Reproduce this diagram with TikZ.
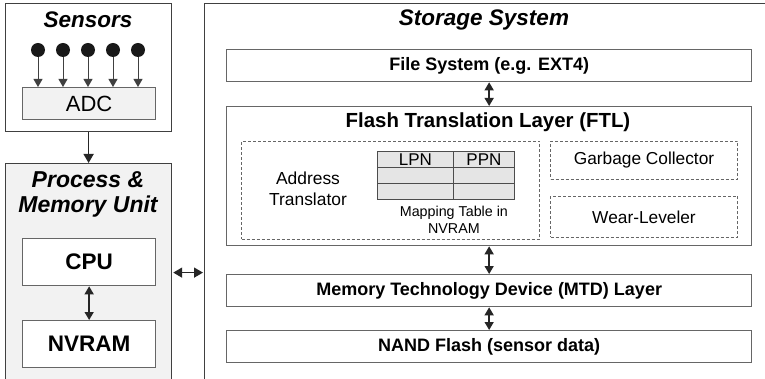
\documentclass[tikz,border=0pt]{standalone}
\usepackage{fontspec}
\setmainfont{Liberation Sans}
\usetikzlibrary{arrows.meta,positioning}

\begin{document}
\begin{tikzpicture}[x=1pt, y=-1pt, every node/.style={inner sep=0pt},
    outer/.style={draw=black!75, line width=1.2pt, anchor=north west},
    title/.style={font=\fontsize{22.5}{25}\selectfont\bfseries\itshape, align=center},
    layer/.style={draw=black!60, line width=1.3pt, anchor=north west, minimum width=525pt, minimum height=32pt, font=\fontsize{18}{20}\selectfont\bfseries},
    unit/.style={draw=black!60, line width=1.3pt, anchor=north west, minimum width=133pt, minimum height=47pt, fill=white, font=\fontsize{22.5}{25}\selectfont\bfseries},
    part/.style={draw=black!60, dash pattern=on 3pt off 2pt, line width=1pt, anchor=north west, font=\fontsize{17.3}{20}\selectfont},
    cell/.style={draw=black!70, line width=0.9pt, fill=black!10, anchor=north west, minimum height=16pt, font=\fontsize{17}{18}\selectfont},
    dbl/.style={{Triangle[width=9pt,length=8pt]}-{Triangle[width=9pt,length=8pt]}, line width=1.4pt, black!85}]
  \useasboundingbox (0,0) rectangle (765,379);

  % sensors
  \node (sens) [outer, minimum width=166pt, minimum height=128pt] at (5,3) {};
  \node (senst) [title] at (88,20) {Sensors};
  \node (adc) [draw=black!60, line width=1.2pt, fill=black!5, anchor=north west, minimum width=133pt, minimum height=32pt, font=\fontsize{22}{24}\selectfont] at (22,87) {ADC};
  \foreach \x [count=\i] in {38,63,88,113,138} {
    \node (dot\i) [circle, fill=black!90, minimum size=14pt] at (\x,50) {};
    \draw[-{Triangle[width=9pt,length=8pt]}, line width=0.9pt, black!75] (dot\i) -- (dot\i |- adc.north);
  }

  % process and memory
  \node (proc) [outer, fill=black!5, minimum width=166pt, minimum height=222pt] at (5,163) {};
  \node (proct) [title, font=\fontsize{23}{25}\selectfont\bfseries\itshape] at (88,194) {Process \&\\Memory Unit};
  \node (cpu) [unit] at (22,238) {CPU};
  \node (nvram) [unit] at (22,320) {NVRAM};
  \draw[-{Triangle[width=10pt,length=9pt]}, line width=1.5pt, black!85] (sens) -- (proc);
  \draw[dbl] (cpu) -- (nvram);

  % storage
  \node (store) [outer, minimum width=566pt, minimum height=382pt] at (204,3) {};
  \node (storet) [title] at (484,20) {Storage System};
  \node (fs) [layer] at (226,49) {File System (e.g. EXT4)};
  \node (ftl) [layer, minimum height=139pt] at (226,106) {};
  \node (ftlt) [font=\fontsize{20.4}{22}\selectfont\bfseries] at (488,122) {Flash Translation Layer (FTL)};
  \node (addr) [part, minimum width=298pt, minimum height=98pt] at (241,141) {};
  \node (addrt) [font=\fontsize{17.4}{21}\selectfont, align=center] at (308,189) {Address\\Translator};
  \foreach \r in {0,1,2} {
    \node (l\r) [cell, minimum width=76pt] at (377,151+16*\r) {};
    \node (p\r) [cell, minimum width=61pt] at (453,151+16*\r) {};
  }
  \node at (l0) [font=\fontsize{17}{18}\selectfont] {LPN};
  \node at (p0) [font=\fontsize{17}{18}\selectfont] {PPN};
  \node (mapt) [font=\fontsize{14.3}{17}\selectfont, align=center, below=6pt of l2.south east] {Mapping Table in\\NVRAM};
  \node (gc) [part, minimum width=187pt, minimum height=38pt] at (550,141) {Garbage Collector};
  \node (wl) [part, minimum width=187pt, minimum height=41pt] at (550,196) {Wear-Leveler};
  \node (mtd) [layer] at (226,274) {Memory Technology Device (MTD) Layer};
  \node (nand) [layer] at (226,330) {NAND Flash (sensor data)};
  \draw[dbl] (fs) -- (ftl);
  \draw[dbl] (ftl) -- (mtd);
  \draw[dbl] (mtd) -- (nand);

  \draw[{Triangle[width=10pt,length=9pt]}-{Triangle[width=10pt,length=9pt]}, line width=1.5pt, black!85] ([xshift=1pt,yshift=2pt]proc.east) -- ([xshift=-1pt,yshift=2pt]proc.east -| store.west);
\end{tikzpicture}
\end{document}
